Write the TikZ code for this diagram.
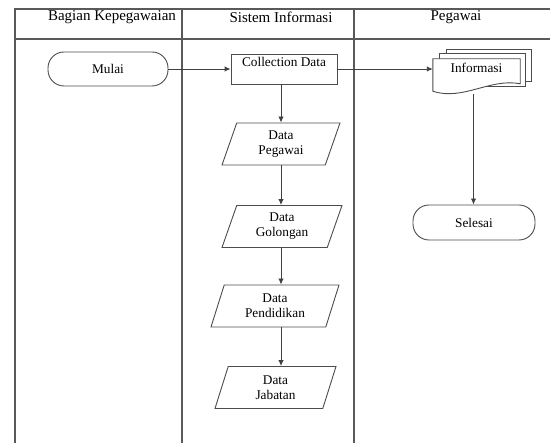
\documentclass[tikz,border=0pt]{standalone}
\usepackage{fontspec}
\setmainfont{Liberation Serif}
\usetikzlibrary{shapes.geometric,arrows.meta,calc}

\tikzset{
  garis/.style={line width=1.2pt, draw=black!65},
  terminal/.style={draw=black!70, line width=0.9pt, rounded corners=16pt, minimum width=120pt, minimum height=34pt, inner sep=0pt, font=\fontsize{13.3}{15}\selectfont},
  proses/.style={draw=black!70, line width=0.9pt, minimum width=106pt, inner xsep=0pt, inner ysep=4pt, text height=9pt, text depth=13pt, font=\fontsize{13.3}{15}\selectfont},
  datain/.style={draw=black!70, line width=0.9pt, trapezium, trapezium left angle=61, trapezium right angle=119, trapezium stretches body, minimum height=42pt, inner sep=0pt, align=center, font=\fontsize{13.3}{15}\selectfont},
  dokumen/.style={minimum width=87pt, inner xsep=0pt, inner ysep=0pt, text height=14pt, text depth=18pt, font=\fontsize{13.3}{15}\selectfont},
  lembar/.style={draw=black!70, line width=0.9pt, fill=white},
  judul/.style={font=\fontsize{15}{17}\selectfont},
  panah/.style={draw=black!75, line width=0.9pt, -{Latex[length=6pt,width=5.5pt]}}
}

\begin{document}
\begin{tikzpicture}[x=1pt, y=-1pt]
    \useasboundingbox (0,0) rectangle (550,443);
    % Jalur
    \draw[garis] (15,443) -- (15,9) -- (550,9);
    \draw[garis] (15,39) -- (550,39);
    \draw[garis] (182,9) -- (182,443);
    \draw[garis] (354,9) -- (354,443);
    \node[judul] (hbk) at (112,17) {Bagian Kepegawaian};
    \node[judul] (hsi) at (281,17) {Sistem Informasi};
    \node[judul] (hpg) at (456,17) {Pegawai};
    % Simbol
    \node[terminal] (mulai) at (108,69) {Mulai};
    \node[proses] (cd) at (284,69) {Collection Data};
    \node[datain, minimum width=118pt] (peg) at (281,144) {Data\\Pegawai};
    \node[datain, minimum width=120pt] (gol) at (282,226.5) {Data\\Golongan};
    \node[datain, minimum width=128pt] (pend) at (275,306) {Data\\Pendidikan};
    \node[datain, minimum width=121pt] (jab) at (275.5,387.5) {Data\\Jabatan};
    \node[terminal, minimum width=122pt, minimum height=35pt] (selesai) at (474,222.5) {Selesai};
    % Dokumen ganda
    \node[dokumen] (info) at (476.5,75) {};
    \draw[lembar] ($(info.north west)+(14,-9)$) rectangle ($(info.north west)+(99,23)$);
    \draw[lembar] ($(info.north west)+(7,-5)$) rectangle ($(info.north west)+(93,28)$);
    \draw[lembar] (info.south west) -- (info.north west) -- (info.north east) -- ($(info.north east)+(0,25)$)
        .. controls ($(info.north east)+(-30,19)$) and ($(info.south west)+(30,10)$) .. (info.south west) -- cycle;
    \node[dokumen] at (info) {Informasi};
    \coordinate (infob) at ($(info.south)+(-3,3)$);
    % Alur
    \draw[panah] (mulai.east) -- (cd.west);
    \draw[panah] (cd.east) -- (cd.east -| info.west);
    \draw[panah] (cd.south -| peg.north) -- (peg.north);
    \draw[panah] (peg.south) -- (peg.south |- gol.north);
    \draw[panah] (gol.south -| peg.south) -- (peg.south |- pend.north);
    \draw[panah] (pend.south -| peg.south) -- (peg.south |- jab.north);
    \draw[panah] (infob) -- (infob |- selesai.north);
\end{tikzpicture}
\end{document}
